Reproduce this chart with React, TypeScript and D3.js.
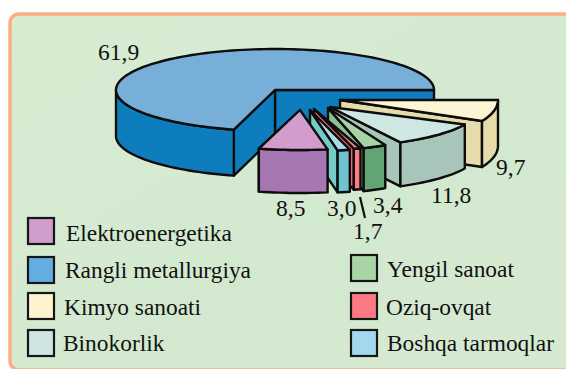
import React from "react";
import * as d3 from "d3";

// ---- data (clockwise from the chart's right side) ----
const sectors = ["Kimyo sanoati", "Binokorlik", "Yengil sanoat", "Oziq-ovqat", "Boshqa tarmoqlar", "Elektroenergetika", "Rangli metallurgiya"];
const shares = [9.7, 11.8, 3.4, 1.7, 3.0, 8.5, 61.9];

// ---- appearance & layout ----
const W = 566, H = 369;
const SERIF = "'Liberation Serif', 'Times New Roman', serif";
const screenBoundaries = [90, 116, 152, 163, 165.5, 170, 195, 450]; // drawn angle (deg clockwise from north) of each slice boundary

type Look = { cx: number; cy: number; rx: number; ry: number; depth: number; top: string; rim: string; cut: string };
const looks: Look[] = [
  { cx: 340, cy: 100, rx: 158, ry: 48, depth: 46, top: "#fbf5d4", rim: "#e6dcaa", cut: "#e6dcaa" },
  { cx: 330, cy: 107, rx: 150, ry: 40, depth: 44, top: "#cfe7e2", rim: "#a8c5ba", cut: "#a8c5ba" },
  { cx: 328, cy: 108, rx: 122, ry: 42, depth: 43, top: "#a9d3a6", rim: "#63a477", cut: "#8cbf92" },
  { cx: 314, cy: 109, rx: 159, ry: 41, depth: 41, top: "#ef8590", rim: "#ff7b88", cut: "#f06a78" },
  { cx: 310, cy: 110, rx: 159, ry: 41, depth: 42, top: "#aadbe8", rim: "#6fc3d0", cut: "#76cbc6" },
  { cx: 300, cy: 110, rx: 159, ry: 40, depth: 43, top: "#d29ccb", rim: "#a777b4", cut: "#a777b4" },
  { cx: 275, cy: 90, rx: 159, ry: 41, depth: 46, top: "#78afd8", rim: "#0a7dbd", cut: "#0a7dbd" },
];

const valueLabels = [
  { i: 6, x: 98, y: 60 },
  { i: 5, x: 276, y: 216 },
  { i: 4, x: 327, y: 216 },
  { i: 2, x: 373, y: 213 },
  { i: 3, x: 353, y: 239 },
  { i: 1, x: 431, y: 203 },
  { i: 0, x: 496, y: 175 },
];

const legend = [
  { name: "Elektroenergetika", fill: "#d09ccc", sx: 28, sy: 218, tx: 66, ty: 241 },
  { name: "Rangli metallurgiya", fill: "#64aee0", sx: 28, sy: 257, tx: 65, ty: 278 },
  { name: "Kimyo sanoati", fill: "#fdf3cf", sx: 28, sy: 293, tx: 64, ty: 315 },
  { name: "Binokorlik", fill: "#cfe5e2", sx: 28, sy: 330, tx: 63, ty: 351 },
  { name: "Yengil sanoat", fill: "#a8d4a6", sx: 351, sy: 255, tx: 387, ty: 277 },
  { name: "Oziq-ovqat", fill: "#fb7a85", sx: 351, sy: 293, tx: 386, ty: 315 },
  { name: "Boshqa tarmoqlar", fill: "#a4d8ee", sx: 351, sy: 330, tx: 387, ty: 351 },
];

const fmt = (v: number) => v.toFixed(1).replace(".", ",");

export default function App() {
  const arcs = d3.pie<number>().sort(null).startAngle(0).endAngle(2 * Math.PI)(shares);
  const domain = [0, ...arcs.map((a) => a.endAngle)];
  const warp = d3.scaleLinear().domain(domain).range(screenBoundaries);
  const line = d3.line<[number, number]>();

  const project = (l: Look, deg: number, drop = 0): [number, number] => {
    const t = (deg * Math.PI) / 180;
    return [l.cx + l.rx * Math.sin(t), l.cy - l.ry * Math.cos(t) + drop];
  };
  const sweep = (a: number, b: number) => {
    const n = Math.max(2, Math.ceil(Math.abs(b - a) / 2));
    return d3.range(n + 1).map((k) => a + ((b - a) * k) / n);
  };

  // paint order: far pieces first
  const order = [6, 0, 1, 2, 3, 4, 5];
  const faces = order.map((i) => {
    const l = looks[i];
    const a0 = warp(arcs[i].startAngle);
    const a1 = warp(arcs[i].endAngle);
    const wall = (deg: number) =>
      line([[l.cx, l.cy], project(l, deg), project(l, deg, l.depth), [l.cx, l.cy + l.depth]]) + "Z";
    const rimFrom = Math.max(a0, 90);
    const rimTo = Math.min(a1, 270);
    const rimTopPts = sweep(rimFrom, rimTo).map((d) => project(l, d));
    const rimBottomPts = sweep(rimTo, rimFrom).map((d) => project(l, d, l.depth));
    return {
      i,
      l,
      walls: i === 6 ? [wall(a1), wall(a0)] : [wall(a1)],
      rim: line([...rimTopPts, ...rimBottomPts]) + "Z",
      top: line([[l.cx, l.cy], ...sweep(a0, a1).map((d) => project(l, d))]) + "Z",
    };
  });

  return (
    <svg width={W} height={H} viewBox={`0 0 ${W} ${H}`} style={{ position: "fixed", left: 0, top: 0, display: "block", background: "#fff" }}>
      <defs>
        <filter id="soft" x="-5%" y="-5%" width="110%" height="110%">
          <feGaussianBlur stdDeviation="0.5" />
        </filter>
        <linearGradient id="panel" x1="0" y1="0" x2="1" y2="1">
          <stop offset="0" stopColor="#d8ecd2" />
          <stop offset="0.6" stopColor="#d3e9cf" />
          <stop offset="1" stopColor="#d6ead2" />
        </linearGradient>
      </defs>
      <g filter="url(#soft)">
        <rect x={10} y={14} width={575} height={356} rx={9} fill="url(#panel)" stroke="#fbae84" strokeWidth={3.5} />
        {faces.map((f) => (
          <g key={f.i} stroke="#0b0b0b" strokeWidth={2.4} strokeLinejoin="round">
            {f.walls.map((d, k) => (
              <path key={k} d={d} fill={f.l.cut} />
            ))}
            <path d={f.rim} fill={f.l.rim} />
            <path d={f.top} fill={f.l.top} />
          </g>
        ))}
        <line x1={360} y1={197} x2={365} y2={218} stroke="#111" strokeWidth={2.2} />
        {legend.map((d) => (
          <g key={d.name}>
            <rect x={d.sx} y={d.sy} width={26} height={26} fill={d.fill} stroke="#151515" strokeWidth={2.2} />
          </g>
        ))}
      </g>
      <g fontFamily={SERIF} fill="#111">
        {valueLabels.map((d) => (
          <text key={d.i} x={d.x} y={d.y} fontSize={23.5}>{fmt(shares[d.i])}</text>
        ))}
        {legend.map((d) => (
          <text key={d.name} x={d.tx} y={d.ty} fontSize={23.4}>{d.name}</text>
        ))}
      </g>
    </svg>
  );
}
